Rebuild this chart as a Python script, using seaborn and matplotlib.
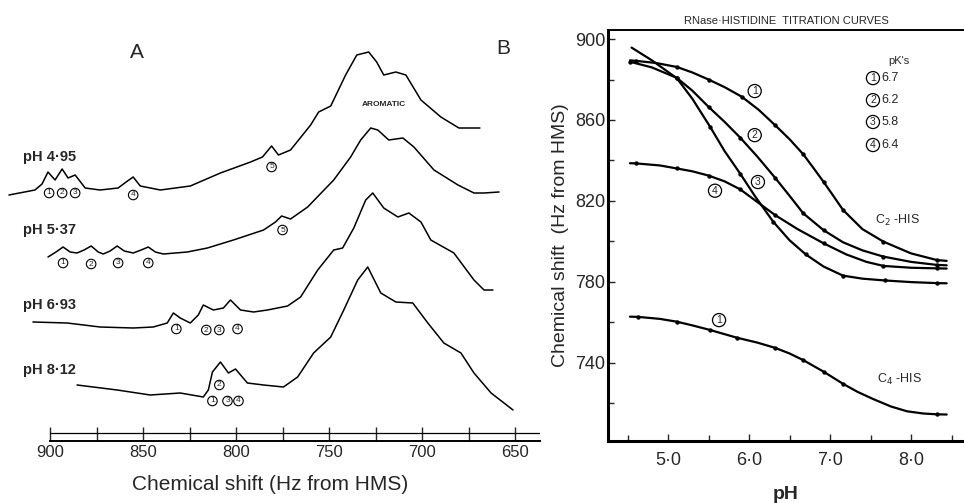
import matplotlib
matplotlib.use("Agg")
import matplotlib.pyplot as plt
from matplotlib.ticker import FixedLocator, FuncFormatter
import seaborn as sns
import pandas as pd

# ---- panel A: NMR spectra (shift in Hz from HMS, height above the ruler) ----
ph_labels = ["pH 4·95", "pH 5·37", "pH 6·93", "pH 8·12"]
ph_label_height = [284, 211, 136, 71]
shift_ticks = [900, 875, 850, 825, 800, 775, 750, 725, 700, 675, 650]

shift_495 = [922.1, 908.1, 904.3, 901.1, 897.3, 893.5, 890.3, 886.5, 881.1, 873.1, 863.4, 859.1,
             855.3, 851.5, 840.7, 824.6, 808.4, 792.2, 785.8, 780.9, 777.2, 770.7, 759.9, 755.6,
             749.1, 741.1, 735.1, 728.7, 724.4, 720.6, 714.1, 708.7, 700.6, 689.9, 680.2, 668.9]
height_495 = [246, 251, 257, 269, 261, 272, 263, 266, 253, 251, 253, 259,
              264, 255, 251, 255, 268, 279, 284, 295, 286, 291, 316, 329,
              335, 366, 386, 389, 379, 366, 369, 366, 341, 324, 313, 313]

shift_537 = [901.1, 896.8, 893.0, 889.2, 885.5, 881.7, 877.9, 874.1, 871.4, 867.7, 863.9, 860.1,
             855.3, 851.0, 847.2, 843.4, 839.1, 826.2, 815.4, 801.4, 785.2, 778.8, 775.5, 770.7,
             761.5, 747.5, 738.4, 733.0, 727.6, 723.8, 717.9, 710.3, 704.4, 693.6, 680.7, 672.1,
             666.7, 658.6]
height_537 = [184, 189, 194, 189, 188, 191, 195, 189, 187, 190, 195, 190,
              188, 191, 194, 189, 187, 189, 193, 201, 211, 219, 225, 222,
              234, 261, 284, 301, 313, 311, 301, 303, 294, 271, 256, 248,
              248, 249]

shift_693 = [909.2, 890.8, 873.1, 855.3, 844.5, 837.0, 833.7, 830.0, 824.6, 820.3, 817.6, 812.2,
             806.8, 803.0, 797.6, 790.6, 783.1, 772.3, 765.3, 756.1, 747.5, 742.7, 736.7, 730.3,
             726.5, 720.6, 713.0, 707.1, 700.6, 695.3, 682.9, 672.1, 666.7, 661.9]
height_693 = [119, 118, 114, 113, 114, 118, 128, 123, 118, 126, 136, 131,
              133, 141, 131, 129, 131, 135, 144, 171, 191, 193, 213, 241,
              248, 233, 224, 228, 219, 201, 188, 161, 151, 151]

shift_812 = [885.5, 863.9, 846.1, 830.0, 817.6, 814.9, 812.7, 808.4, 804.1, 800.3, 793.9, 785.2,
             774.5, 766.9, 758.3, 749.1, 742.1, 734.6, 729.2, 722.2, 714.1, 705.0, 696.9, 688.3,
             679.1, 672.1, 662.9, 651.1]
height_812 = [56, 51, 46, 48, 44, 51, 69, 79, 68, 72, 58, 56,
              54, 64, 88, 104, 131, 161, 174, 148, 139, 138, 118, 98,
              88, 68, 48, 31]

# circled peak labels: (number, shift, height)
peak_tags = [
    ("1", 900.5, 248), ("2", 893.5, 248), ("3", 886.5, 248), ("4", 855.3, 246), ("5", 780.9, 274),
    ("1", 893.0, 178), ("2", 877.9, 177), ("3", 863.4, 178), ("4", 847.2, 178), ("5", 775.0, 211),
    ("1", 832.1, 112), ("2", 816.0, 111), ("3", 809.0, 111), ("4", 799.2, 112),
    ("2", 809.0, 56), ("1", 812.7, 40), ("3", 804.6, 40), ("4", 798.7, 40),
]

# ---- panel B: titration curves, drawn line (pH, Hz) and measured dots ----
c2_1_ph = [4.53, 4.61, 4.85, 5.11, 5.3, 5.50, 5.7, 5.91, 6.12, 6.32, 6.5, 6.67, 6.8, 6.92, 7.04,
           7.16, 7.4, 7.66, 8.0, 8.32, 8.44]
c2_1_hz = [889.5, 889.2, 888.2, 886.2, 883.5, 880.0, 876.2, 871.5, 865.0, 857.5, 850.5, 843.0,
           836.0, 829.4, 822.5, 815.5, 806.0, 799.8, 794.0, 790.7, 790.3]
c2_1_dots = [4.61, 5.11, 5.50, 5.91, 6.32, 6.67, 6.92, 7.16, 7.66, 8.32]

c2_2_ph = [4.53, 4.8, 5.11, 5.3, 5.50, 5.7, 5.89, 6.1, 6.32, 6.5, 6.67, 6.92, 7.16, 7.4, 7.66,
           8.0, 8.32, 8.44]
c2_2_hz = [888.8, 886.0, 880.8, 874.5, 866.5, 859.0, 851.3, 842.0, 831.5, 822.5, 813.8, 805.5,
           799.5, 795.5, 792.4, 789.8, 788.3, 788.1]
c2_2_dots = [4.53, 5.11, 5.50, 5.89, 6.32, 6.67, 6.92, 7.66, 8.32]

c2_3_ph = [4.55, 4.8, 5.11, 5.3, 5.52, 5.7, 5.89, 6.07, 6.3, 6.5, 6.7, 6.92, 7.16, 7.4, 7.68,
           8.0, 8.32, 8.44]
c2_3_hz = [895.8, 889.5, 880.6, 870.5, 856.6, 844.5, 833.5, 822.5, 809.6, 800.5, 793.5, 787.5,
           783.0, 781.5, 780.6, 779.8, 779.3, 779.2]
c2_3_dots = [5.11, 5.52, 5.89, 6.3, 6.7, 7.16, 7.68, 8.32]

c2_4_ph = [4.53, 4.61, 4.9, 5.11, 5.3, 5.50, 5.7, 5.89, 6.1, 6.32, 6.6, 6.92, 7.2, 7.45, 7.66,
           8.0, 8.32, 8.44]
c2_4_hz = [838.6, 838.5, 837.5, 836.0, 834.6, 832.5, 829.6, 825.7, 819.5, 813.0, 806.0, 799.0,
           793.5, 789.8, 787.8, 786.9, 786.6, 786.5]
c2_4_dots = [4.61, 5.11, 5.50, 5.89, 6.32, 6.92, 7.66, 8.32]

c4_1_ph = [4.53, 4.63, 4.9, 5.11, 5.3, 5.52, 5.85, 6.1, 6.32, 6.5, 6.67, 6.92, 7.16, 7.34, 7.53,
           7.75, 7.95, 8.15, 8.32, 8.44]
c4_1_hz = [762.7, 762.6, 761.6, 760.2, 758.4, 756.1, 752.3, 749.9, 747.3, 744.5, 741.2, 735.5,
           729.5, 725.5, 722.0, 718.3, 715.9, 714.8, 714.4, 714.3]
c4_1_dots = [4.63, 5.11, 5.52, 5.85, 6.32, 6.67, 6.92, 7.16, 8.32]

pk_names = ["1", "2", "3", "4"]
pk_values = ["6.7", "6.2", "5.8", "6.4"]
pk_rows = [880.7, 869.8, 859.0, 847.6]

sns.set_theme(style="white")
plt.rcParams["font.family"] = ["Liberation Sans", "DejaVu Sans"]

fig = plt.figure(figsize=(9.64, 5.03), dpi=100)
axA = fig.add_axes([0.0, 62 / 503, 540 / 964, 441 / 503])
axB = fig.add_axes([608 / 964, 62 / 503, 356 / 964, 411 / 503])

# ---------- panel A ----------
spectra = [(shift_495, height_495), (shift_537, height_537), (shift_693, height_693), (shift_812, height_812)]
for i, (sx, hy) in enumerate(spectra):
    df = pd.DataFrame({"shift": sx, "h": hy})
    sns.lineplot(data=df, x="shift", y="h", ax=axA, color="black", lw=1.1,
                 sort=False, estimator=None)
    axA.text(23 / 540, ph_label_height[i], ph_labels[i], transform=axA.get_yaxis_transform(),
             fontsize=10.5, fontweight="bold", ha="left", va="center")

for num, sx, hy in peak_tags:
    axA.text(sx, hy, num, fontsize=6, ha="center", va="center",
             bbox=dict(boxstyle="circle,pad=0.15", fc="white", ec="black", lw=0.8))

axA.text(720.6, 336, "AROMATIC", fontsize=6, fontweight="bold", ha="center", va="center")

axA.set_xlim(926.9, 636.6)
axA.set_ylim(0, 441)
for s in ["left", "right", "top"]:
    axA.spines[s].set_visible(False)
axA.spines["bottom"].set_bounds(900, 636.6)
axA.spines["bottom"].set_linewidth(1.4)
axA.spines["bottom"].set_color("black")
axA.plot([900, 636.6], [8, 8], color="black", lw=0.9)
axA.set_yticks([])
axA.xaxis.set_major_locator(FixedLocator(shift_ticks))
axA.xaxis.set_major_formatter(FuncFormatter(lambda v, p: f"{v:.0f}" if round(v) % 50 == 0 else ""))
axA.tick_params(axis="x", direction="in", length=10, width=1, labelsize=12, pad=3, bottom=True)
axA.set_xlabel("Chemical shift (Hz from HMS)", fontsize=15, labelpad=11)
axA.set_ylabel("")

fig.text(137 / 964, 1 - 52 / 503, "A", fontsize=15, ha="center", va="center")
fig.text(503 / 964, 1 - 48 / 503, "B", fontsize=15, ha="center", va="center")

# ---------- panel B ----------
curves = [(c2_1_ph, c2_1_hz, c2_1_dots), (c2_2_ph, c2_2_hz, c2_2_dots), (c2_3_ph, c2_3_hz, c2_3_dots),
          (c2_4_ph, c2_4_hz, c2_4_dots), (c4_1_ph, c4_1_hz, c4_1_dots)]
for px, hz, dots in curves:
    df = pd.DataFrame({"pH": px, "hz": hz})
    sns.lineplot(data=df, x="pH", y="hz", ax=axB, color="black", lw=1.6, sort=False, estimator=None)
    sns.scatterplot(data=df[df["pH"].isin(dots)], x="pH", y="hz", ax=axB, color="black", s=10,
                    edgecolor="black", linewidth=0, zorder=3)

circ = dict(boxstyle="circle,pad=0.15", fc="white", ec="black", lw=0.9)
axB.text(6.07, 874.3, "1", fontsize=7.5, ha="center", va="center", bbox=circ)
axB.text(6.07, 852.5, "2", fontsize=7.5, ha="center", va="center", bbox=circ)
axB.text(6.11, 829.3, "3", fontsize=7.5, ha="center", va="center", bbox=circ)
axB.text(5.58, 825.0, "4", fontsize=7.5, ha="center", va="center", bbox=circ)
axB.text(5.63, 761.0, "1", fontsize=7.5, ha="center", va="center", bbox=circ)
axB.text(7.55, 810.5, "C$_2$ -HIS", fontsize=9, ha="left", va="center")
axB.text(7.58, 731.8, "C$_4$ -HIS", fontsize=9, ha="left", va="center")

axB.text(7.85, 889.1, "pK's", fontsize=8, ha="center", va="center")
for nm, val, yy in zip(pk_names, pk_values, pk_rows):
    axB.text(7.53, yy, nm, fontsize=7.5, ha="center", va="center", bbox=circ)
    axB.text(7.63, yy, val, fontsize=9, ha="left", va="center")

axB.set_xlim(4.259, 8.654)
axB.set_ylim(701.2, 904.5)
axB.spines["right"].set_visible(False)
axB.spines["left"].set_linewidth(2.2)
axB.spines["bottom"].set_linewidth(2.2)
axB.spines["top"].set_linewidth(1.4)
for s in ["left", "bottom", "top"]:
    axB.spines[s].set_color("black")
axB.xaxis.set_major_locator(FixedLocator([5, 6, 7, 8]))
axB.xaxis.set_minor_locator(FixedLocator([4.5, 5.5, 6.5, 7.5, 8.5]))
axB.yaxis.set_major_locator(FixedLocator([740, 780, 820, 860, 900]))
axB.yaxis.set_minor_locator(FixedLocator([720, 760, 800, 840, 880]))
axB.xaxis.set_major_formatter(FuncFormatter(lambda v, p: f"{v:.1f}".replace(".", "·")))
axB.yaxis.set_major_formatter(FuncFormatter(lambda v, p: f"{v:.0f}"))
axB.tick_params(which="both", direction="in", width=1, left=True, bottom=True, labelsize=13)
axB.tick_params(which="major", length=5)
axB.tick_params(which="minor", length=4)
axB.tick_params(axis="y", pad=2)
axB.tick_params(axis="x", pad=8)
axB.set_xlabel("pH", fontsize=14, fontweight="bold", labelpad=12)
axB.set_ylabel("Chemical shift  (Hz from HMS)", fontsize=14, labelpad=4)
axB.set_title("RNase·HISTIDINE  TITRATION CURVES", fontsize=8, pad=4)

fig.savefig("out.png", dpi=100, facecolor="white")
